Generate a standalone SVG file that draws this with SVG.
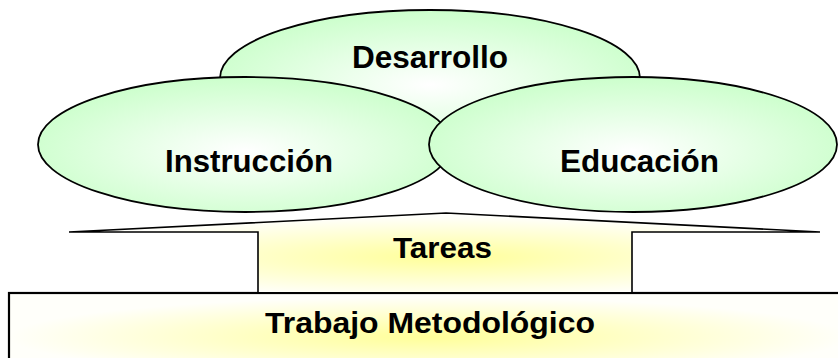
<svg xmlns="http://www.w3.org/2000/svg" width="838" height="358" viewBox="0 0 838 358">
  <defs>
    <radialGradient id="green" cx="50%" cy="55%" r="55%">
      <stop offset="0" stop-color="#ffffff"/>
      <stop offset="1" stop-color="#ccffcc"/>
    </radialGradient>
    <radialGradient id="yellow" cx="50%" cy="55%" r="50%">
      <stop offset="0" stop-color="#ffff99"/>
      <stop offset="1" stop-color="#fffffa"/>
    </radialGradient>
    <style>
      .ell { fill: url(#green); stroke: #000; stroke-width: 1.8; }
      .lbl { font-family: "Liberation Sans", Arial, sans-serif; font-weight: bold; fill: #000; text-anchor: middle; }
    </style>
  </defs>
  <rect width="838" height="358" fill="#ffffff"/>

  <g id="trabajo">
    <rect x="9" y="293" width="840" height="80" fill="url(#yellow)" stroke="#000" stroke-width="2.2"/>
    <text class="lbl" x="430" y="333" font-size="30" textLength="330" lengthAdjust="spacingAndGlyphs">Trabajo Metodológico</text>
  </g>

  <g id="tareas">
    <polygon points="258,293 258,232 69,232 446,213 820,232 632,232 632,293" fill="url(#yellow)" stroke="#000" stroke-width="1.6" stroke-linejoin="miter"/>
    <line x1="9" y1="293" x2="838" y2="293" stroke="#000" stroke-width="2.2"/>
    <text class="lbl" x="442.5" y="258" font-size="30" textLength="99" lengthAdjust="spacingAndGlyphs">Tareas</text>
  </g>

  <g id="desarrollo">
    <ellipse class="ell" cx="430" cy="78" rx="210" ry="68"/>
    <text class="lbl" x="430" y="68" font-size="31" textLength="156" lengthAdjust="spacingAndGlyphs">Desarrollo</text>
  </g>

  <g id="instruccion">
    <ellipse class="ell" cx="245" cy="144.5" rx="207" ry="67.5"/>
    <text class="lbl" x="249" y="172" font-size="31" textLength="168" lengthAdjust="spacingAndGlyphs">Instrucción</text>
  </g>

  <g id="educacion">
    <ellipse class="ell" cx="633" cy="144.5" rx="204" ry="67.5"/>
    <text class="lbl" x="639.5" y="172" font-size="31" textLength="159" lengthAdjust="spacingAndGlyphs">Educación</text>
  </g>

  <g id="connectors"/>
</svg>
